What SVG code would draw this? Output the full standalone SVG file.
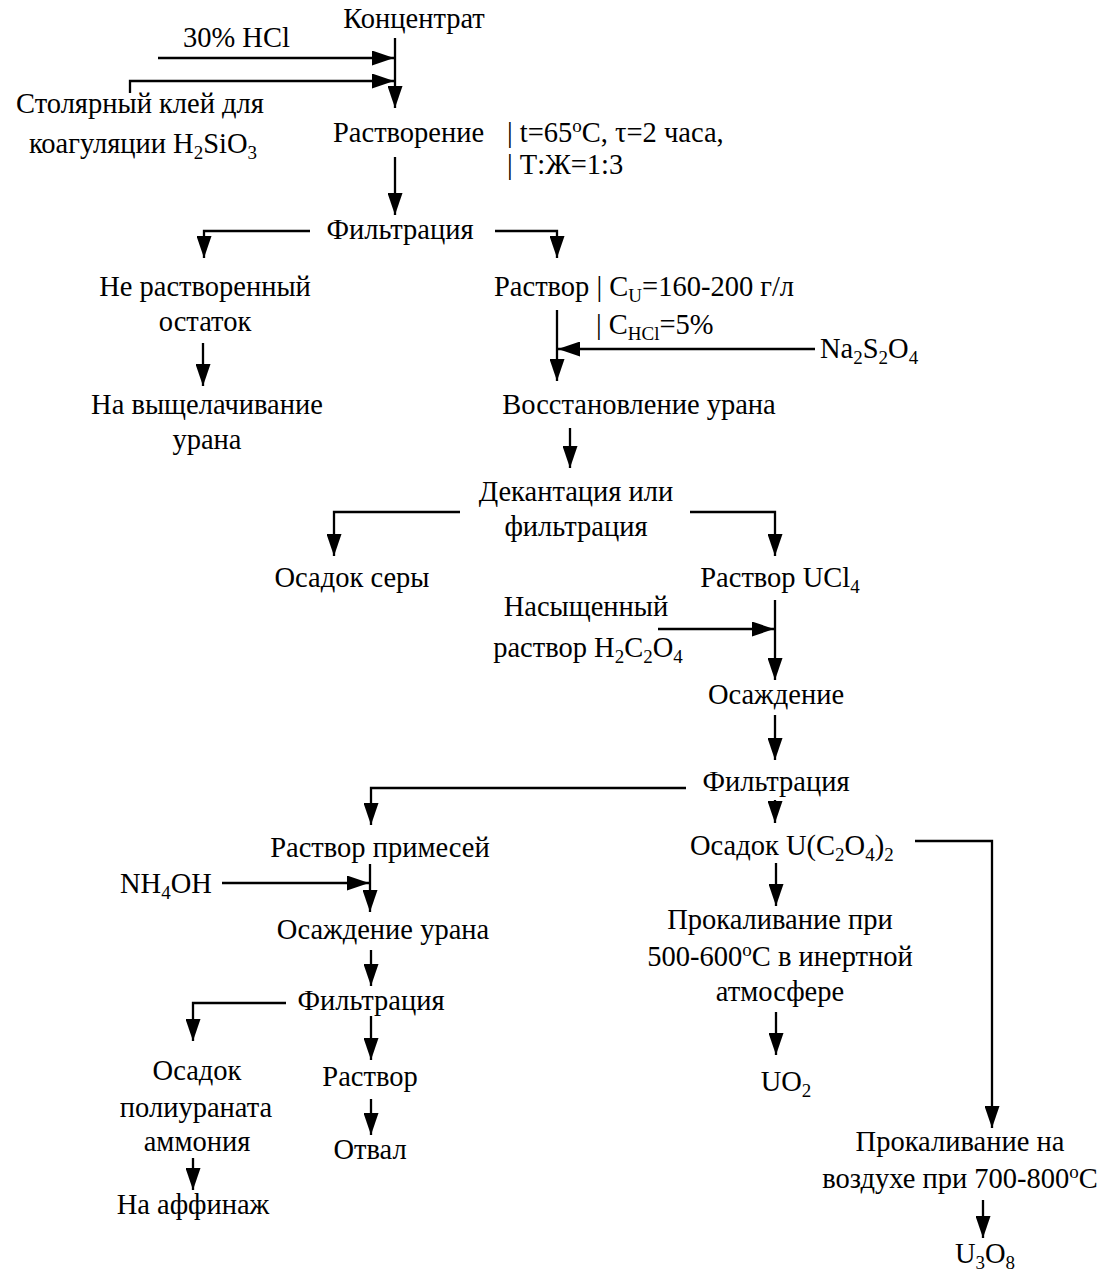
<svg xmlns="http://www.w3.org/2000/svg" width="1107" height="1271" viewBox="0 0 1107 1271">
<style>
text{font-family:"Liberation Serif","Times New Roman",serif;font-size:28.5px;fill:#000}
.c{text-anchor:middle}
.s{font-size:19px}
line,polyline{stroke:#000;stroke-width:2.3;fill:none;marker-end:url(#ah)}
</style>
<defs>
<marker id="ah" markerUnits="userSpaceOnUse" markerWidth="22" markerHeight="15" refX="22" refY="7.5" orient="auto">
<path d="M0,0 L22,7.5 L0,15 z" fill="#000"/>
</marker>
</defs>
<rect width="1107" height="1271" fill="#fff"/>
<g id="connectors">
<line x1="395" y1="38" x2="395" y2="108"/>
<line x1="158" y1="58" x2="394" y2="58"/>
<polyline points="130,93 130,81 394,81"/>
<line x1="395" y1="157" x2="395" y2="215"/>
<polyline points="310,231 204,231 204,258"/>
<polyline points="495,231 557,231 557,258"/>
<line x1="203" y1="343" x2="203" y2="386"/>
<line x1="557" y1="310" x2="557" y2="381"/>
<line x1="815" y1="349" x2="558" y2="349"/>
<line x1="570" y1="428" x2="570" y2="468"/>
<polyline points="460,512 334,512 334,556"/>
<polyline points="690,512 775,512 775,556"/>
<line x1="775" y1="600" x2="775" y2="680"/>
<line x1="658" y1="629" x2="774" y2="629"/>
<line x1="775" y1="715" x2="775" y2="760"/>
<polyline points="686,788 371,788 371,825"/>
<line x1="775" y1="800" x2="775" y2="823"/>
<polyline points="915,841 992,841 992,1128"/>
<line x1="222" y1="883" x2="369" y2="883"/>
<line x1="370" y1="864" x2="370" y2="912"/>
<line x1="371" y1="950" x2="371" y2="986"/>
<polyline points="286,1003 193,1003 193,1041"/>
<line x1="371" y1="1016" x2="371" y2="1060"/>
<line x1="371" y1="1099" x2="371" y2="1135"/>
<line x1="193" y1="1158" x2="193" y2="1190"/>
<line x1="776" y1="863" x2="776" y2="906"/>
<line x1="776" y1="1012" x2="776" y2="1055"/>
<line x1="983" y1="1200" x2="983" y2="1238"/>
</g>
<g id="n-koncentrat"><text class="c" x="414" y="28">Концентрат</text></g>
<g id="n-hcl"><text x="183" y="47">30% HCl</text></g>
<g id="n-klei"><text class="c" x="140" y="113">Столярный клей для</text><text class="c" x="143" y="153">коагуляции H<tspan class="s" dy="6">2</tspan><tspan dy="-6">SiO</tspan><tspan class="s" dy="6">3</tspan></text></g>
<g id="n-rastvorenie"><text x="333" y="142">Растворение</text><text x="507" y="142">| t=65<tspan class="s" dy="-10">o</tspan><tspan dy="10">C, τ=2 часа,</tspan></text><text x="507" y="174">| Т:Ж=1:3</text></g>
<g id="n-filtr1"><text class="c" x="400" y="239">Фильтрация</text></g>
<g id="n-ostatok"><text class="c" x="205" y="296">Не растворенный</text><text class="c" x="205" y="331">остаток</text></g>
<g id="n-vysh"><text class="c" x="207" y="414">На выщелачивание</text><text class="c" x="207" y="449">урана</text></g>
<g id="n-rastvor1"><text x="494" y="296">Раствор | C<tspan class="s" dy="6">U</tspan><tspan dy="-6">=160-200 г/л</tspan></text><text x="596" y="334">| C<tspan class="s" dy="6">HCl</tspan><tspan dy="-6">=5%</tspan></text></g>
<g id="n-na2s2o4"><text x="820" y="358">Na<tspan class="s" dy="6">2</tspan><tspan dy="-6">S</tspan><tspan class="s" dy="6">2</tspan><tspan dy="-6">O</tspan><tspan class="s" dy="6">4</tspan></text></g>
<g id="n-vosst"><text class="c" x="639" y="414">Восстановление урана</text></g>
<g id="n-dekant"><text class="c" x="576" y="501">Декантация или</text><text class="c" x="576" y="536">фильтрация</text></g>
<g id="n-sera"><text class="c" x="352" y="587">Осадок серы</text></g>
<g id="n-ucl4"><text class="c" x="780" y="587">Раствор UCl<tspan class="s" dy="6">4</tspan></text></g>
<g id="n-h2c2o4"><text class="c" x="586" y="616">Насыщенный</text><text class="c" x="588" y="657">раствор H<tspan class="s" dy="6">2</tspan><tspan dy="-6">C</tspan><tspan class="s" dy="6">2</tspan><tspan dy="-6">O</tspan><tspan class="s" dy="6">4</tspan></text></g>
<g id="n-osazhd"><text class="c" x="776" y="704">Осаждение</text></g>
<g id="n-filtr2"><text class="c" x="776" y="791">Фильтрация</text></g>
<g id="n-primesi"><text class="c" x="380" y="857">Раствор примесей</text></g>
<g id="n-oxalat"><text x="690" y="855">Осадок U(C<tspan class="s" dy="6">2</tspan><tspan dy="-6">O</tspan><tspan class="s" dy="6">4</tspan><tspan dy="-6">)</tspan><tspan class="s" dy="6">2</tspan></text></g>
<g id="n-nh4oh"><text x="120" y="893">NH<tspan class="s" dy="6">4</tspan><tspan dy="-6">OH</tspan></text></g>
<g id="n-osazhd-urana"><text class="c" x="383" y="939">Осаждение урана</text></g>
<g id="n-filtr3"><text class="c" x="371" y="1010">Фильтрация</text></g>
<g id="n-poliuranat"><text class="c" x="197" y="1080">Осадок</text><text class="c" x="196" y="1117">полиураната</text><text class="c" x="197" y="1151">аммония</text></g>
<g id="n-rastvor3"><text class="c" x="370" y="1086">Раствор</text></g>
<g id="n-otval"><text class="c" x="370" y="1159">Отвал</text></g>
<g id="n-affinazh"><text class="c" x="193" y="1214">На аффинаж</text></g>
<g id="n-prokal1"><text class="c" x="780" y="929">Прокаливание при</text><text class="c" x="780" y="966">500-600<tspan class="s" dy="-10">o</tspan><tspan dy="10">C в инертной</tspan></text><text class="c" x="780" y="1001">атмосфере</text></g>
<g id="n-uo2"><text class="c" x="786" y="1091">UO<tspan class="s" dy="6">2</tspan></text></g>
<g id="n-prokal2"><text class="c" x="960" y="1151">Прокаливание на</text><text class="c" x="960" y="1188">воздухе при 700-800<tspan class="s" dy="-10">o</tspan><tspan dy="10">C</tspan></text></g>
<g id="n-u3o8"><text class="c" x="985" y="1263">U<tspan class="s" dy="6">3</tspan><tspan dy="-6">O</tspan><tspan class="s" dy="6">8</tspan></text></g>
</svg>
